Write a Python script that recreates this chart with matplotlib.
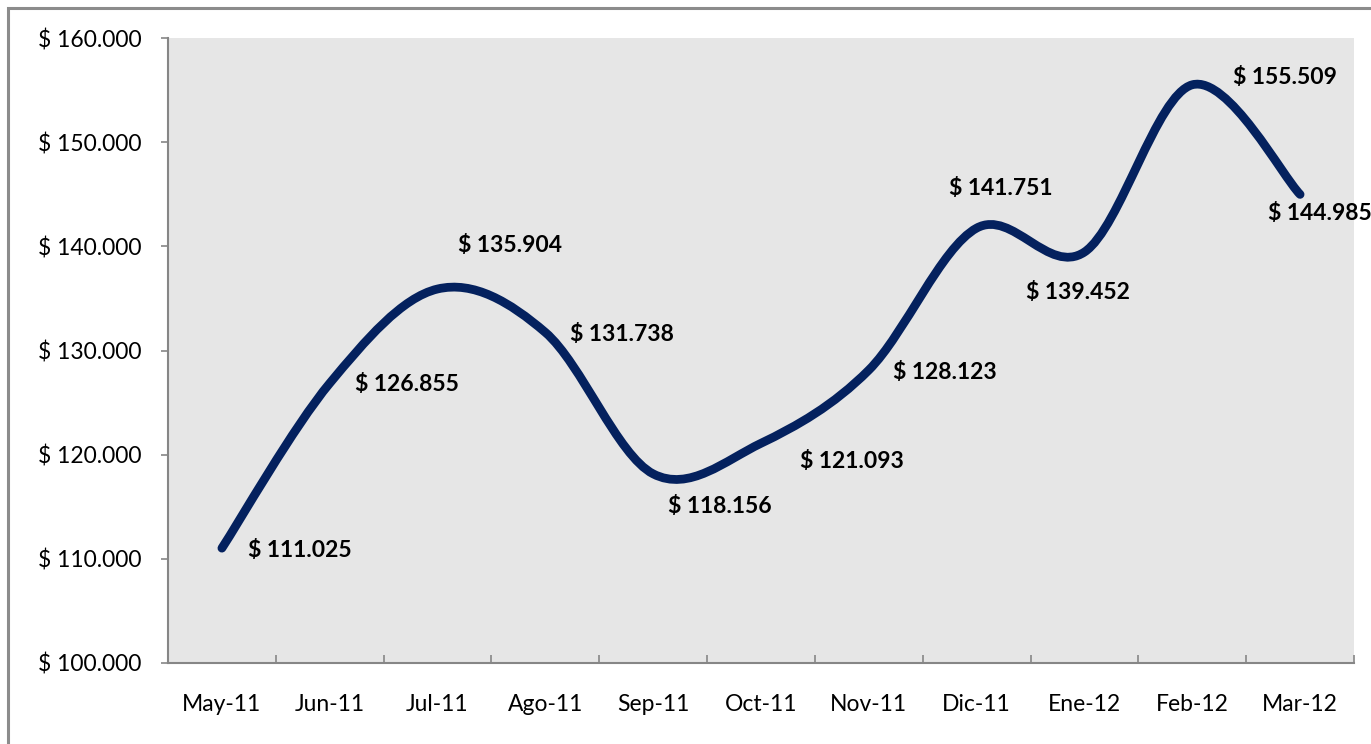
import matplotlib
matplotlib.use("Agg")
import matplotlib.pyplot as plt
from matplotlib.path import Path
from matplotlib.patches import PathPatch, Rectangle
import numpy as np

months = ["May-11", "Jun-11", "Jul-11", "Ago-11", "Sep-11", "Oct-11",
          "Nov-11", "Dic-11", "Ene-12", "Feb-12", "Mar-12"]
values = [111025, 126855, 135904, 131738, 118156, 121093,
          128123, 141751, 139452, 155509, 144985]
y_ticks = [100000, 110000, 120000, 130000, 140000, 150000, 160000]

# label offsets in pixels (left edge dx, center dy)
label_offsets = [(26, -2), (25, -1), (20, 43), (25, -2), (15, -33), (39, -18),
                 (24, -2), (-28, 40), (-58, -40), (41, 7), (-32, -19)]

plt.rcParams['font.family'] = ['Lato', 'DejaVu Sans']

W, H = 1371, 744
fig = plt.figure(figsize=(W / 100, H / 100), dpi=100)
fig.patch.set_facecolor("white")

# outer chart border
fig.patches.append(Rectangle((8 / W, -0.05), 1.2, 1 - 8 / H + 0.05,
                             transform=fig.transFigure, fill=False,
                             edgecolor="#8C8C8C", linewidth=2.2))

ax = fig.add_axes([168 / W, 1 - 663 / H, (1354 - 168) / W, (663 - 38) / H])
ax.set_facecolor("#E6E6E6")

x = np.arange(len(values), dtype=float)
y = np.array(values, dtype=float)
pts = np.column_stack([x, y])
n = len(pts)

# Excel-like smoothed line (Catmull-Rom Bezier)
verts = [pts[0]]
codes = [Path.MOVETO]
for i in range(n - 1):
    p0 = pts[i - 1] if i > 0 else pts[i]
    p1 = pts[i]
    p2 = pts[i + 1]
    p3 = pts[i + 2] if i + 2 < n else pts[i + 1]
    c1 = p1 + (p2 - p0) / 6.0
    c2 = p2 - (p3 - p1) / 6.0
    verts += [c1, c2, p2]
    codes += [Path.CURVE4] * 3
path = Path(verts, codes)
ax.add_patch(PathPatch(path, facecolor="none", edgecolor="#04215E",
                       linewidth=6.3, capstyle="round", joinstyle="round", zorder=3))

ax.set_xlim(-0.5, len(values) - 0.5)
ax.set_ylim(100000, 160000)

ax.set_yticks(y_ticks)
ax.set_yticklabels(["$ " + f"{v:,}".replace(",", ".") for v in y_ticks])
ax.tick_params(axis="y", direction="out", length=5, width=1.2, color="#868686",
               labelsize=16.5, pad=14, labelcolor="black")

ax.set_xticks(np.arange(-0.5, len(values), 1.0))
ax.set_xticklabels([])
ax.set_xticks(x, minor=True)
ax.set_xticklabels(months, minor=True)
ax.tick_params(axis="x", which="major", direction="in", length=6, width=1.2,
               color="#868686")
ax.tick_params(axis="x", which="minor", length=0, labelsize=16.5, pad=22,
               labelcolor="black")

for side in ["top", "right"]:
    ax.spines[side].set_visible(False)
for side in ["left", "bottom"]:
    ax.spines[side].set_color("#868686")
    ax.spines[side].set_linewidth(1.5)

for xi, yi, (dx, dy) in zip(x, y, label_offsets):
    ax.annotate("$ " + f"{int(yi):,}".replace(",", "."), (xi, yi),
                xytext=(dx, dy), textcoords="offset pixels",
                ha="left", va="center", fontsize=16.5, fontweight="bold",
                color="black", annotation_clip=False, zorder=4)

fig.savefig("out.png", dpi=100, facecolor="white")
